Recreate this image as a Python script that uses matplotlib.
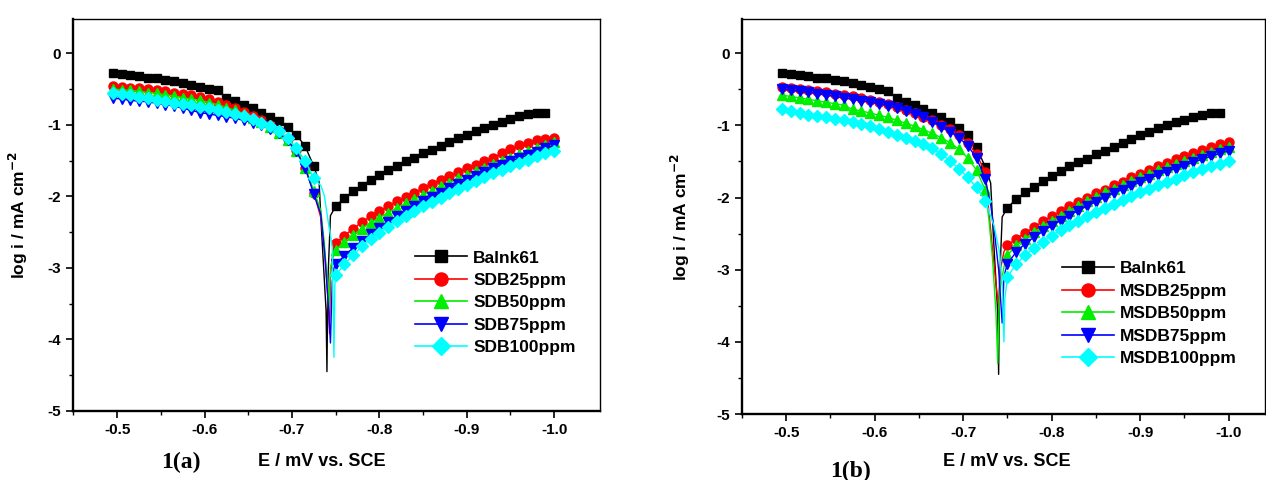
import numpy as np
import matplotlib.pyplot as plt
from matplotlib.lines import Line2D

plt.rcParams['font.family'] = ['Liberation Sans', 'DejaVu Sans']
plt.rcParams['font.weight'] = 'bold'
plt.rcParams['axes.unicode_minus'] = False

# potentials (V vs SCE) of the sampled points
E_cath = [-0.495, -0.505, -0.515, -0.525, -0.535, -0.545, -0.555, -0.565,
          -0.575, -0.585, -0.595, -0.605, -0.615, -0.625, -0.635, -0.645,
          -0.655, -0.665, -0.675, -0.685, -0.695, -0.705, -0.715, -0.725]
E_anod = [-0.75, -0.76, -0.77, -0.78, -0.79, -0.80, -0.81, -0.82, -0.83,
          -0.84, -0.85, -0.86, -0.87, -0.88, -0.89, -0.90, -0.91, -0.92,
          -0.93, -0.94, -0.95, -0.96, -0.97, -0.98, -0.99, -1.00]

# blank (same in both panels)
blank_cath = [-0.28, -0.29, -0.30, -0.32, -0.34, -0.35, -0.37, -0.39, -0.41, -0.44,
              -0.47, -0.50, -0.52, -0.62, -0.67, -0.72, -0.77, -0.83, -0.89, -0.95,
              -1.03, -1.14, -1.30, -1.58]
blank_corr_E = [-0.731, -0.734, -0.739, -0.740, -0.741, -0.744]
blank_corr = [-1.80, -2.52, -3.60, -4.45, -3.20, -2.27]
blank_anod = [-2.14, -2.02, -1.93, -1.85, -1.77, -1.70, -1.63, -1.57, -1.51, -1.46,
              -1.40, -1.35, -1.30, -1.24, -1.19, -1.14, -1.09, -1.04, -1.00, -0.96,
              -0.92, -0.88, -0.85, -0.83, -0.83]

# panel (a): SDB
labels_a = ['Balnk61', 'SDB25ppm', 'SDB50ppm', 'SDB75ppm', 'SDB100ppm']
cath_a = [
    blank_cath,
    [-0.46, -0.47, -0.48, -0.49, -0.50, -0.52, -0.53, -0.55, -0.57, -0.59, -0.61, -0.64,
     -0.68, -0.72, -0.77, -0.82, -0.88, -0.94, -1.01, -1.09, -1.20, -1.35, -1.60, -1.95],
    [-0.50, -0.51, -0.52, -0.53, -0.55, -0.56, -0.58, -0.60, -0.62, -0.64, -0.66, -0.69,
     -0.72, -0.76, -0.80, -0.85, -0.90, -0.96, -1.03, -1.11, -1.22, -1.37, -1.60, -1.92],
    [-0.63, -0.64, -0.66, -0.67, -0.68, -0.70, -0.72, -0.74, -0.77, -0.80, -0.83, -0.85,
     -0.87, -0.89, -0.91, -0.94, -0.97, -1.01, -1.06, -1.12, -1.22, -1.37, -1.60, -1.97],
    [-0.55, -0.57, -0.59, -0.61, -0.63, -0.65, -0.67, -0.69, -0.71, -0.73, -0.75, -0.77,
     -0.79, -0.82, -0.85, -0.88, -0.92, -0.97, -1.02, -1.09, -1.19, -1.33, -1.50, -1.75],
]
corr_E_a = [
    blank_corr_E,
    [-0.733, -0.737, -0.741, -0.743, -0.744, -0.747],
    [-0.733, -0.737, -0.741, -0.742, -0.744, -0.747],
    [-0.733, -0.738, -0.742, -0.744, -0.746, -0.748],
    [-0.733, -0.737, -0.742, -0.746, -0.748, -0.749],
]
corr_a = [
    blank_corr,
    [-2.30, -2.73, -3.40, -3.92, -3.10, -2.75],
    [-2.20, -2.65, -3.30, -3.60, -3.00, -2.85],
    [-2.25, -2.88, -3.60, -4.05, -3.20, -3.00],
    [-1.85, -1.99, -2.40, -2.70, -4.25, -3.25],
]
anod_a = [
    blank_anod,
    [-2.65, -2.55, -2.45, -2.36, -2.28, -2.21, -2.14, -2.07, -2.01, -1.95, -1.89, -1.83, -1.77,
     -1.72, -1.66, -1.61, -1.56, -1.51, -1.46, -1.40, -1.34, -1.29, -1.25, -1.22, -1.20, -1.19],
    [-2.75, -2.64, -2.54, -2.45, -2.37, -2.30, -2.23, -2.16, -2.10, -2.04, -1.98, -1.92, -1.86,
     -1.81, -1.75, -1.70, -1.65, -1.60, -1.55, -1.50, -1.46, -1.41, -1.37, -1.32, -1.28, -1.24],
    [-2.95, -2.83, -2.72, -2.62, -2.53, -2.44, -2.36, -2.28, -2.21, -2.14, -2.07, -2.01, -1.95,
     -1.89, -1.83, -1.77, -1.72, -1.66, -1.61, -1.56, -1.51, -1.47, -1.42, -1.38, -1.33, -1.29],
    [-3.10, -2.95, -2.82, -2.70, -2.60, -2.51, -2.43, -2.35, -2.28, -2.21, -2.14, -2.08, -2.02,
     -1.96, -1.90, -1.84, -1.79, -1.73, -1.68, -1.63, -1.58, -1.53, -1.49, -1.44, -1.40, -1.37],
]

# panel (b): MSDB
labels_b = ['Balnk61', 'MSDB25ppm', 'MSDB50ppm', 'MSDB75ppm', 'MSDB100ppm']
cath_b = [
    blank_cath,
    [-0.47, -0.48, -0.50, -0.51, -0.53, -0.54, -0.56, -0.58, -0.60, -0.62, -0.65, -0.68,
     -0.71, -0.75, -0.79, -0.83, -0.88, -0.93, -0.99, -1.05, -1.13, -1.24, -1.40, -1.65],
    [-0.58, -0.60, -0.62, -0.64, -0.66, -0.68, -0.70, -0.72, -0.78, -0.80, -0.83, -0.86,
     -0.89, -0.93, -0.97, -1.01, -1.06, -1.11, -1.17, -1.24, -1.33, -1.45, -1.62, -1.90],
    [-0.50, -0.51, -0.53, -0.54, -0.56, -0.58, -0.60, -0.62, -0.64, -0.66, -0.68, -0.70,
     -0.73, -0.76, -0.80, -0.84, -0.89, -0.95, -1.02, -1.09, -1.17, -1.28, -1.45, -1.75],
    [-0.77, -0.80, -0.83, -0.85, -0.87, -0.89, -0.91, -0.93, -0.95, -0.98, -1.01, -1.05,
     -1.09, -1.13, -1.17, -1.21, -1.26, -1.32, -1.40, -1.49, -1.60, -1.72, -1.86, -2.05],
]
corr_E_b = [
    blank_corr_E,
    [-0.729, -0.733, -0.737, -0.740, -0.742, -0.746],
    [-0.729, -0.733, -0.737, -0.739, -0.741, -0.747],
    [-0.731, -0.735, -0.740, -0.744, -0.746, -0.748],
    [-0.735, -0.741, -0.744, -0.746, -0.747, -0.749],
]
corr_b = [
    blank_corr,
    [-2.20, -2.70, -3.20, -3.50, -3.00, -2.75],
    [-2.30, -2.83, -3.60, -4.30, -3.30, -2.90],
    [-2.10, -2.45, -3.00, -3.74, -3.10, -3.00],
    [-2.40, -2.76, -3.20, -4.00, -3.40, -3.20],
]
anod_b = [
    blank_anod,
    [-2.66, -2.57, -2.49, -2.41, -2.33, -2.26, -2.19, -2.12, -2.06, -2.00, -1.94, -1.89, -1.83,
     -1.78, -1.72, -1.67, -1.62, -1.57, -1.52, -1.47, -1.43, -1.38, -1.34, -1.30, -1.26, -1.23],
    [-2.80, -2.66, -2.57, -2.48, -2.40, -2.32, -2.25, -2.18, -2.12, -2.05, -1.99, -1.93, -1.88,
     -1.82, -1.77, -1.72, -1.67, -1.62, -1.58, -1.54, -1.50, -1.45, -1.41, -1.37, -1.33, -1.30],
    [-2.92, -2.75, -2.64, -2.55, -2.47, -2.39, -2.32, -2.25, -2.18, -2.12, -2.06, -2.00, -1.94,
     -1.89, -1.84, -1.79, -1.74, -1.69, -1.64, -1.60, -1.56, -1.51, -1.47, -1.43, -1.39, -1.35],
    [-3.10, -2.92, -2.80, -2.70, -2.61, -2.53, -2.45, -2.38, -2.32, -2.26, -2.20, -2.14, -2.09,
     -2.03, -1.98, -1.93, -1.88, -1.83, -1.78, -1.74, -1.69, -1.65, -1.61, -1.57, -1.53, -1.50],
]

colors = ['#000000', '#ff0000', '#00ee00', '#0000ff', '#00ffff']
markers = ['s', 'o', '^', 'v', 'D']
msizes = [5.5, 6.5, 7, 7, 6]
xticks = [-0.5, -0.6, -0.7, -0.8, -0.9, -1.0]
yticks = [-5, -4, -3, -2, -1, 0]


def draw_panel(ax, labels, cath, corr_E, corr, anod, xlim, ylim, leg_anchor):
    handles = []
    for i in range(len(labels)):
        Ea = E_anod[:len(anod[i])]
        E = E_cath + corr_E[i] + Ea
        L = cath[i] + corr[i] + anod[i]
        ax.plot(E, L, color=colors[i], lw=1.0)
        # no markers on the thin corrosion-potential spike
        Em = E_cath + Ea
        Lm = cath[i] + anod[i]
        ax.plot(Em, Lm, ls='none', marker=markers[i], ms=msizes[i],
                color=colors[i], mec=colors[i])
        handles.append(Line2D([], [], color=colors[i], lw=1.2, marker=markers[i],
                              ms=msizes[i] * 1.45, mec=colors[i]))
    ax.set_xlim(*xlim)
    ax.set_ylim(*ylim)
    ax.set_xticks(xticks)
    ax.set_xticklabels(['%.1f' % v for v in xticks])
    ax.set_xticks([-0.45, -0.55, -0.65, -0.75, -0.85, -0.95], minor=True)
    ax.set_yticks(yticks)
    ax.set_yticks([-4.5, -3.5, -2.5, -1.5, -0.5], minor=True)
    ax.tick_params(which='major', direction='out', length=5, width=1.2,
                   labelsize=11, top=False, right=False)
    ax.tick_params(which='minor', direction='out', length=3, width=1.0,
                   top=False, right=False)
    for side in ['left', 'bottom']:
        ax.spines[side].set_linewidth(1.7)
    for side in ['top', 'right']:
        ax.spines[side].set_linewidth(1.0)
    ax.set_ylabel('log i / mA cm$^{\\mathbf{-2}}$', fontsize=12.5, fontweight='bold')
    ax.legend(handles, labels, loc='upper left', bbox_to_anchor=leg_anchor,
              frameon=False, fontsize=12.5, handlelength=3.0, handletextpad=0.35,
              labelspacing=0.42, borderpad=0, borderaxespad=0, numpoints=1)


fig = plt.figure(figsize=(12.66, 4.8), dpi=100)
ax1 = fig.add_axes([0.0577, 0.1438, 0.4163, 0.8162])
ax2 = fig.add_axes([0.5861, 0.1375, 0.4131, 0.8225])

draw_panel(ax1, labels_a, cath_a, corr_E_a, corr_a, anod_a,
           (-0.4495, -1.0525), (-5, 0.475), (0.649, 0.41))
draw_panel(ax2, labels_b, cath_b, corr_E_b, corr_b, anod_b,
           (-0.4503, -1.041), (-5, 0.471), (0.612, 0.387))

ax1.yaxis.set_label_coords(-0.082, 0.5)
ax2.yaxis.set_label_coords(-0.095, 0.5)

fig.text(322 / 1266, 1 - 462 / 480, 'E / mV vs. SCE', ha='center', va='center',
         fontsize=13, fontweight='bold')
fig.text(1007 / 1266, 1 - 462 / 480, 'E / mV vs. SCE', ha='center', va='center',
         fontsize=13, fontweight='bold')
fig.text(181 / 1266, 1 - 462 / 480, '1(a)', ha='center', va='center',
         fontsize=17, fontweight='bold', family='Liberation Serif')
fig.text(850 / 1266, 1 - 471 / 480, '1(b)', ha='center', va='center',
         fontsize=17, fontweight='bold', family='Liberation Serif')

fig.savefig('out.png', dpi=100)
